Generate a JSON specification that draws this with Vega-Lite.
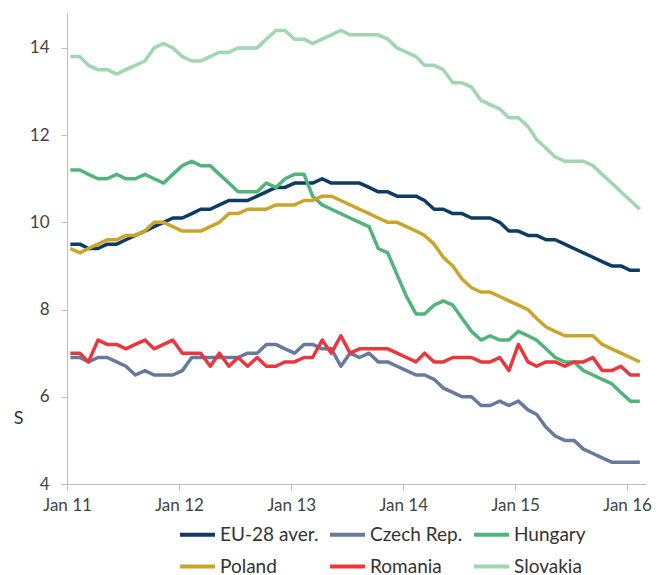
{
  "$schema": "https://vega.github.io/schema/vega-lite/v6.json",
  "autosize": "none",
  "width": 579,
  "height": 471,
  "padding": {"left": 67, "top": 13, "right": 19, "bottom": 91},
  "background": "white",
  "config": {
    "font": "Lato",
    "view": {"stroke": null},
    "axis": {"grid": false, "domainColor": "#bdbdbd", "tickColor": "#bdbdbd", "labelColor": "#444", "labelFontSize": 17, "labelFont": "Lato", "tickSize": 6}
  },
  "data": {"values": [
    {"m":"2011-01-12","EU":9.5,"CZ":6.9,"HU":11.2,"PL":9.4,"RO":7.0,"SK":13.8},
    {"m":"2011-02-12","EU":9.5,"CZ":6.9,"HU":11.2,"PL":9.3,"RO":7.0,"SK":13.8},
    {"m":"2011-03-12","EU":9.4,"CZ":6.8,"HU":11.1,"PL":9.4,"RO":6.8,"SK":13.6},
    {"m":"2011-04-12","EU":9.4,"CZ":6.9,"HU":11.0,"PL":9.5,"RO":7.3,"SK":13.5},
    {"m":"2011-05-12","EU":9.5,"CZ":6.9,"HU":11.0,"PL":9.6,"RO":7.2,"SK":13.5},
    {"m":"2011-06-12","EU":9.5,"CZ":6.8,"HU":11.1,"PL":9.6,"RO":7.2,"SK":13.4},
    {"m":"2011-07-12","EU":9.6,"CZ":6.7,"HU":11.0,"PL":9.7,"RO":7.1,"SK":13.5},
    {"m":"2011-08-12","EU":9.7,"CZ":6.5,"HU":11.0,"PL":9.7,"RO":7.2,"SK":13.6},
    {"m":"2011-09-12","EU":9.8,"CZ":6.6,"HU":11.1,"PL":9.8,"RO":7.3,"SK":13.7},
    {"m":"2011-10-12","EU":9.9,"CZ":6.5,"HU":11.0,"PL":10.0,"RO":7.1,"SK":14.0},
    {"m":"2011-11-12","EU":10.0,"CZ":6.5,"HU":10.9,"PL":10.0,"RO":7.2,"SK":14.1},
    {"m":"2011-12-12","EU":10.1,"CZ":6.5,"HU":11.1,"PL":9.9,"RO":7.3,"SK":14.0},
    {"m":"2012-01-12","EU":10.1,"CZ":6.6,"HU":11.3,"PL":9.8,"RO":7.0,"SK":13.8},
    {"m":"2012-02-12","EU":10.2,"CZ":6.9,"HU":11.4,"PL":9.8,"RO":7.0,"SK":13.7},
    {"m":"2012-03-12","EU":10.3,"CZ":6.9,"HU":11.3,"PL":9.8,"RO":7.0,"SK":13.7},
    {"m":"2012-04-12","EU":10.3,"CZ":6.9,"HU":11.3,"PL":9.9,"RO":6.7,"SK":13.8},
    {"m":"2012-05-12","EU":10.4,"CZ":6.9,"HU":11.1,"PL":10.0,"RO":7.0,"SK":13.9},
    {"m":"2012-06-12","EU":10.5,"CZ":6.9,"HU":10.9,"PL":10.2,"RO":6.7,"SK":13.9},
    {"m":"2012-07-12","EU":10.5,"CZ":6.9,"HU":10.7,"PL":10.2,"RO":6.9,"SK":14.0},
    {"m":"2012-08-12","EU":10.5,"CZ":7.0,"HU":10.7,"PL":10.3,"RO":6.7,"SK":14.0},
    {"m":"2012-09-12","EU":10.6,"CZ":7.0,"HU":10.7,"PL":10.3,"RO":6.9,"SK":14.0},
    {"m":"2012-10-12","EU":10.7,"CZ":7.2,"HU":10.9,"PL":10.3,"RO":6.7,"SK":14.2},
    {"m":"2012-11-12","EU":10.8,"CZ":7.2,"HU":10.8,"PL":10.4,"RO":6.7,"SK":14.4},
    {"m":"2012-12-12","EU":10.8,"CZ":7.1,"HU":11.0,"PL":10.4,"RO":6.8,"SK":14.4},
    {"m":"2013-01-12","EU":10.9,"CZ":7.0,"HU":11.1,"PL":10.4,"RO":6.8,"SK":14.2},
    {"m":"2013-02-12","EU":10.9,"CZ":7.2,"HU":11.1,"PL":10.5,"RO":6.9,"SK":14.2},
    {"m":"2013-03-12","EU":10.9,"CZ":7.2,"HU":10.6,"PL":10.5,"RO":6.9,"SK":14.1},
    {"m":"2013-04-12","EU":11.0,"CZ":7.1,"HU":10.4,"PL":10.6,"RO":7.3,"SK":14.2},
    {"m":"2013-05-12","EU":10.9,"CZ":7.1,"HU":10.3,"PL":10.6,"RO":7.0,"SK":14.3},
    {"m":"2013-06-12","EU":10.9,"CZ":6.7,"HU":10.2,"PL":10.5,"RO":7.4,"SK":14.4},
    {"m":"2013-07-12","EU":10.9,"CZ":7.0,"HU":10.1,"PL":10.4,"RO":7.0,"SK":14.3},
    {"m":"2013-08-12","EU":10.9,"CZ":6.9,"HU":10.0,"PL":10.3,"RO":7.1,"SK":14.3},
    {"m":"2013-09-12","EU":10.8,"CZ":7.0,"HU":9.9,"PL":10.2,"RO":7.1,"SK":14.3},
    {"m":"2013-10-12","EU":10.7,"CZ":6.8,"HU":9.4,"PL":10.1,"RO":7.1,"SK":14.3},
    {"m":"2013-11-12","EU":10.7,"CZ":6.8,"HU":9.3,"PL":10.0,"RO":7.1,"SK":14.2},
    {"m":"2013-12-12","EU":10.6,"CZ":6.7,"HU":8.8,"PL":10.0,"RO":7.0,"SK":14.0},
    {"m":"2014-01-12","EU":10.6,"CZ":6.6,"HU":8.3,"PL":9.9,"RO":6.9,"SK":13.9},
    {"m":"2014-02-12","EU":10.6,"CZ":6.5,"HU":7.9,"PL":9.8,"RO":6.8,"SK":13.8},
    {"m":"2014-03-12","EU":10.5,"CZ":6.5,"HU":7.9,"PL":9.7,"RO":7.0,"SK":13.6},
    {"m":"2014-04-12","EU":10.3,"CZ":6.4,"HU":8.1,"PL":9.5,"RO":6.8,"SK":13.6},
    {"m":"2014-05-12","EU":10.3,"CZ":6.2,"HU":8.2,"PL":9.2,"RO":6.8,"SK":13.5},
    {"m":"2014-06-12","EU":10.2,"CZ":6.1,"HU":8.1,"PL":9.0,"RO":6.9,"SK":13.2},
    {"m":"2014-07-12","EU":10.2,"CZ":6.0,"HU":7.8,"PL":8.7,"RO":6.9,"SK":13.2},
    {"m":"2014-08-12","EU":10.1,"CZ":6.0,"HU":7.5,"PL":8.5,"RO":6.9,"SK":13.1},
    {"m":"2014-09-12","EU":10.1,"CZ":5.8,"HU":7.3,"PL":8.4,"RO":6.8,"SK":12.8},
    {"m":"2014-10-12","EU":10.1,"CZ":5.8,"HU":7.4,"PL":8.4,"RO":6.8,"SK":12.7},
    {"m":"2014-11-12","EU":10.0,"CZ":5.9,"HU":7.3,"PL":8.3,"RO":6.9,"SK":12.6},
    {"m":"2014-12-12","EU":9.8,"CZ":5.8,"HU":7.3,"PL":8.2,"RO":6.6,"SK":12.4},
    {"m":"2015-01-12","EU":9.8,"CZ":5.9,"HU":7.5,"PL":8.1,"RO":7.2,"SK":12.4},
    {"m":"2015-02-12","EU":9.7,"CZ":5.7,"HU":7.4,"PL":8.0,"RO":6.8,"SK":12.2},
    {"m":"2015-03-12","EU":9.7,"CZ":5.6,"HU":7.3,"PL":7.8,"RO":6.7,"SK":11.9},
    {"m":"2015-04-12","EU":9.6,"CZ":5.3,"HU":7.1,"PL":7.6,"RO":6.8,"SK":11.7},
    {"m":"2015-05-12","EU":9.6,"CZ":5.1,"HU":6.9,"PL":7.5,"RO":6.8,"SK":11.5},
    {"m":"2015-06-12","EU":9.5,"CZ":5.0,"HU":6.8,"PL":7.4,"RO":6.7,"SK":11.4},
    {"m":"2015-07-12","EU":9.4,"CZ":5.0,"HU":6.8,"PL":7.4,"RO":6.8,"SK":11.4},
    {"m":"2015-08-12","EU":9.3,"CZ":4.8,"HU":6.6,"PL":7.4,"RO":6.8,"SK":11.4},
    {"m":"2015-09-12","EU":9.2,"CZ":4.7,"HU":6.5,"PL":7.4,"RO":6.9,"SK":11.3},
    {"m":"2015-10-12","EU":9.1,"CZ":4.6,"HU":6.4,"PL":7.2,"RO":6.6,"SK":11.1},
    {"m":"2015-11-12","EU":9.0,"CZ":4.5,"HU":6.3,"PL":7.1,"RO":6.6,"SK":10.9},
    {"m":"2015-12-12","EU":9.0,"CZ":4.5,"HU":6.1,"PL":7.0,"RO":6.7,"SK":10.7},
    {"m":"2016-01-12","EU":8.9,"CZ":4.5,"HU":5.9,"PL":6.9,"RO":6.5,"SK":10.5},
    {"m":"2016-02-12","EU":8.9,"CZ":4.5,"HU":5.9,"PL":6.8,"RO":6.5,"SK":10.3}
  ]},
  "transform": [
    {"fold": ["EU", "CZ", "HU", "PL", "RO", "SK"], "as": ["series", "value"]}
  ],
  "mark": {"type": "line", "strokeWidth": 3.5, "strokeJoin": "round", "strokeCap": "butt", "interpolate": "linear"},
  "encoding": {
    "x": {
      "field": "m", "type": "temporal",
      "scale": {"type": "utc", "domain": [{"year": 2011, "month": 1, "date": 1, "utc": true}, {"year": 2016, "month": 3, "date": 3, "utc": true}]},
      "axis": {
        "title": null,
        "values": [
          {"year": 2011, "month": 1, "date": 1, "utc": true},
          {"year": 2012, "month": 1, "date": 1, "utc": true},
          {"year": 2013, "month": 1, "date": 1, "utc": true},
          {"year": 2014, "month": 1, "date": 1, "utc": true},
          {"year": 2015, "month": 1, "date": 1, "utc": true},
          {"year": 2016, "month": 1, "date": 1, "utc": true}
        ],
        "format": "%b %y",
        "labelPadding": 7,
        "labelFlush": false,
        "labelOverlap": false
      }
    },
    "y": {
      "field": "value", "type": "quantitative",
      "scale": {"domain": [4, 14.8], "nice": false, "zero": false},
      "axis": {
        "values": [4, 6, 8, 10, 12, 14],
        "title": "S",
        "titleAngle": 0,
        "titleX": -49,
        "titleY": 405,
        "titleAlign": "center",
        "titleBaseline": "middle",
        "titleFontSize": 18,
        "titleFontWeight": "normal",
        "titleColor": "#333",
        "labelPadding": 12
      }
    },
    "color": {
      "field": "series", "type": "nominal",
      "scale": {"domain": ["EU", "CZ", "HU", "PL", "RO", "SK"], "range": ["#0d3b66", "#667a9e", "#52b47a", "#c9a62b", "#e8383e", "#a0d6b0"]},
      "legend": {
        "title": null,
        "orient": "none",
        "legendX": 111,
        "legendY": 502,
        "direction": "horizontal",
        "columns": 3,
        "labelExpr": "{'EU':'EU-28 aver.','CZ':'Czech Rep.','HU':'Hungary','PL':'Poland','RO':'Romania','SK':'Slovakia'}[datum.label]",
        "labelFontSize": 19,
        "labelColor": "#333",
        "labelFont": "Lato",
        "labelOffset": 3,
        "symbolType": "stroke",
        "symbolSize": 1225,
        "symbolStrokeWidth": 4,
        "columnPadding": 3,
        "rowPadding": 2
      }
    },
    "order": {"value": 0}
  }
}
